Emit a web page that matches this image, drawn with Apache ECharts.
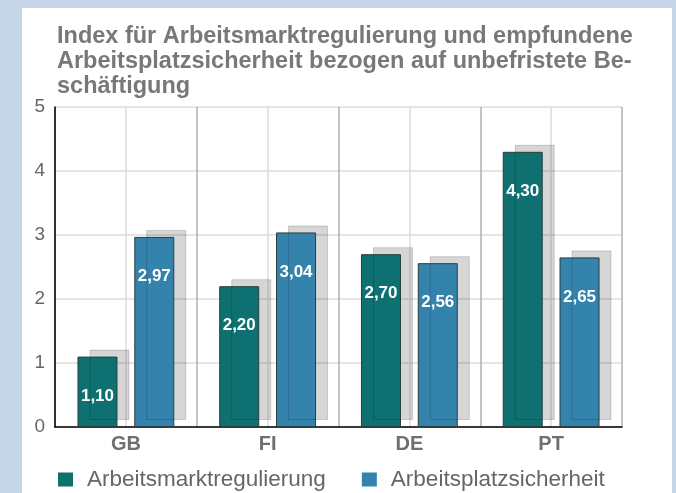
<!DOCTYPE html>
<html>
<head>
<meta charset="utf-8">
<script src="https://cdn.jsdelivr.net/npm/echarts@6/dist/echarts.min.js"></script>
<style>
  html, body { margin: 0; padding: 0; }
  #main { width: 676px; height: 493px; }
</style>
</head>
<body>
<div id="main"></div>
<script>
var countries = ['GB', 'FI', 'DE', 'PT'];
var regulierung = [1.10, 2.20, 2.70, 4.30];
var sicherheit = [2.97, 3.04, 2.56, 2.65];
var yTicks = [0, 1, 2, 3, 4, 5];

var chart = echarts.init(document.getElementById('main'));

function fmt(p) {
  return p.value.toFixed(2).replace('.', ',');
}

var barLabel = {
  show: true,
  position: 'insideTop',
  distance: 31,
  color: '#fff',
  fontWeight: 'bold',
  fontSize: 17,
  fontFamily: 'Liberation Sans, Arial, sans-serif',
  formatter: fmt
};

function barStyle(color) {
  return {
    color: color,
    borderColor: '#2b3d3d',
    borderWidth: 1,
    shadowColor: 'rgba(0,0,0,0.16)',
    shadowBlur: 0,
    shadowOffsetX: 12,
    shadowOffsetY: -7
  };
}

var option = {
  backgroundColor: '#c6d5e8',
  animation: false,
  textStyle: { fontFamily: 'Liberation Sans, Arial, sans-serif' },
  graphic: [{
    type: 'rect',
    z: -10,
    shape: { x: 22, y: 8, width: 650, height: 490 },
    style: { fill: '#fff' }
  }],
  title: {
    text: 'Index für Arbeitsmarktregulierung und empfundene\nArbeitsplatzsicherheit bezogen auf unbefristete Be-\nschäftigung',
    left: 52,
    top: 19,
    textStyle: {
      color: '#787878',
      fontWeight: 'bold',
      fontSize: 23.5,
      lineHeight: 25
    }
  },
  legend: {
    left: 53,
    top: 463,
    itemWidth: 15,
    itemHeight: 14,
    itemGap: 36,
    icon: 'rect',
    itemStyle: { borderWidth: 0, shadowColor: 'transparent' },
    textStyle: { color: '#666', fontSize: 22.5, padding: [0, 0, 0, 9] },
    data: ['Arbeitsmarktregulierung', 'Arbeitsplatzsicherheit']
  },
  grid: { left: 55, right: 54, top: 107, bottom: 66 },
  xAxis: [{
    type: 'category',
    data: countries,
    axisLine: { lineStyle: { color: '#000', width: 1.5 } },
    axisTick: { show: false },
    axisLabel: { color: '#6f706b', fontWeight: 'bold', fontSize: 20, margin: 7 },
    splitLine: { show: false }
  }, {
    type: 'value',
    min: 0,
    max: 8,
    interval: 1,
    show: true,
    axisLine: { show: false },
    axisTick: { show: false },
    axisLabel: { show: false },
    splitLine: { show: true, lineStyle: { color: ['#b0b0b0', '#dcdcdc'], width: 1.5 } }
  }],
  yAxis: {
    type: 'value',
    min: yTicks[0],
    max: yTicks[yTicks.length - 1],
    interval: 1,
    axisLine: { show: true, lineStyle: { color: '#000', width: 1.5 } },
    axisTick: { show: false },
    axisLabel: { color: '#666', fontSize: 19, margin: 10 },
    splitLine: { lineStyle: { color: '#dcdcdc', width: 1.5 } }
  },
  series: [{
    name: 'Arbeitsmarktregulierung',
    type: 'bar',
    data: regulierung,
    barWidth: 40,
    barGap: '42%',
    itemStyle: barStyle('#0e7070'),
    label: barLabel
  }, {
    name: 'Arbeitsplatzsicherheit',
    type: 'bar',
    data: sicherheit,
    barWidth: 40,
    barGap: '42%',
    itemStyle: barStyle('#3483ad'),
    label: barLabel
  }]
};

chart.setOption(option);
</script>
</body>
</html>
